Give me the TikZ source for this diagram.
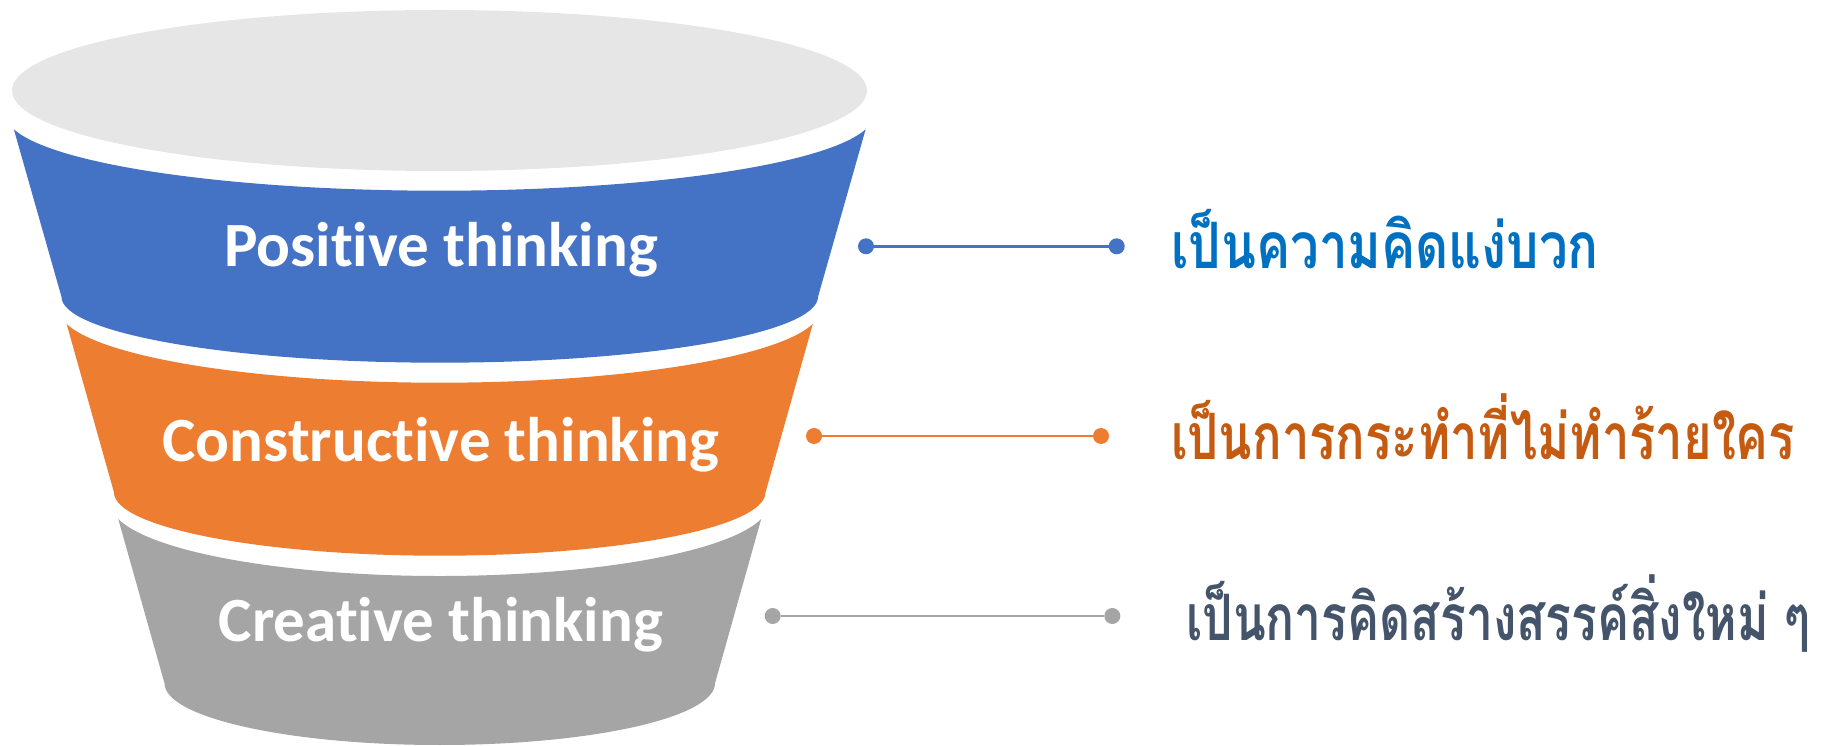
\documentclass[tikz,border=0pt]{standalone}
\usepackage{fontspec}
\setmainfont{Carlito}[Ligatures=NoCommon]
\newfontfamily\thaifont[Script=Thai,FakeStretch=0.75]{Loma}
\definecolor{topgray}{HTML}{E7E6E6}
\definecolor{bandblue}{HTML}{4472C4}
\definecolor{bandorange}{HTML}{ED7D31}
\definecolor{bandgray}{HTML}{A5A5A5}
\definecolor{thaiblue}{HTML}{0070C0}
\definecolor{thaiorange}{HTML}{C55A11}
\definecolor{thaidark}{HTML}{44546A}
\def\fcx{439.75}
% #1 half width top, #2 Y of top corners, #3 depth of top arc,
% #4 half width bottom, #5 Y of bottom corners, #6 depth of bottom arc, #7 colour
\newcommand\funnelband[7]{%
  \pgfmathsetmacro\fbR{#1+8}%
  \pgfmathsetmacro\fba{acos(#1/\fbR)}%
  \pgfmathsetmacro\fbr{#3/(1-sin(\fba))}%
  \fill[#7] (\fcx-#1,#2) arc[start angle=180+\fba, end angle=360-\fba, x radius=\fbR, y radius=\fbr]
    -- (\fcx+#4,#5) arc[start angle=0, end angle=-180, x radius=#4, y radius=#6] -- cycle;
}
\begin{document}
\begin{tikzpicture}[x=1pt,y=1pt,
  bandlabel/.style={anchor=base, text=white, font=\fontsize{63}{70}\selectfont\bfseries, inner sep=0pt},
  thailabel/.style={anchor=base west, font=\fontsize{64}{72}\selectfont\thaifont\bfseries, inner sep=0pt},
  enddot/.style={circle, inner sep=0pt, minimum size=16pt},
  link/.style={line width=2.5pt}]
\useasboundingbox (0,0) rectangle (1837,745);
% top ellipse
\fill[topgray] (439.5,654.5) ellipse[x radius=427.5, y radius=80.5];
% bands
\funnelband{425.9}{615.7}{61.4}{378.3}{448.3}{66}{bandblue}
\funnelband{373.1}{421}{58.7}{325.8}{252.7}{63.4}{bandorange}
\funnelband{321.5}{226}{57}{275.25}{61.7}{61.7}{bandgray}
% labels on the funnel
\node[bandlabel] (lpos) at (440.9,478.3) {Positive thinking};
\node[bandlabel] (lcon) at (440.9,283.3) {Constructive thinking};
\node[bandlabel] (lcre) at (440.9,103.3) {Creative thinking};
% connectors
\node[enddot, fill=bandblue] (b1) at (866,498.7) {};
\node[enddot, fill=bandblue] (b2) at (1116.7,498.7) {};
\draw[link, bandblue] (b1) -- (b2);
\node[enddot, fill=bandorange] (o1) at (814,309) {};
\node[enddot, fill=bandorange] (o2) at (1101,309) {};
\draw[link, bandorange] (o1) -- (o2);
\node[enddot, fill=bandgray] (g1) at (772.7,129) {};
\node[enddot, fill=bandgray] (g2) at (1112.3,129) {};
\draw[link, bandgray] (g1) -- (g2);
% Thai descriptions
\node[thailabel, text=thaiblue] (tpos) at (1171,476.7) {\scalebox{1.065}[1]{เป็นความคิดแง่บวก}};
\node[thailabel, text=thaiorange] (tcon) at (1171,285) {\scalebox{1.02}[1]{เป็นการกระทำที่ไม่ทำร้ายใคร}};
\node[thailabel, text=thaidark] (tcre) at (1186,105) {เป็นการคิดสร้างสรรค์สิ่งใหม่ ๆ};
\end{tikzpicture}
\end{document}
